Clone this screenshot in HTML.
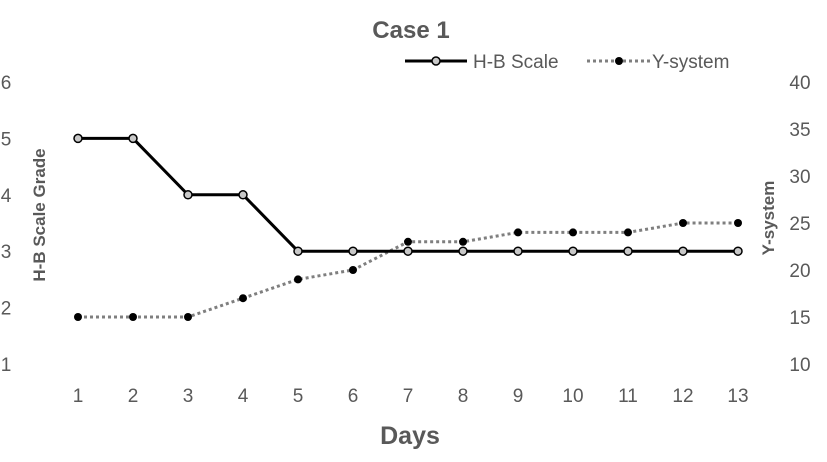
<!DOCTYPE html>
<html><head><meta charset="utf-8"><style>
body{margin:0;background:#fff;}
svg text{font-family:"Liberation Sans",sans-serif;fill:#595959;}
</style></head><body>
<svg id="chart" width="827" height="457" xmlns="http://www.w3.org/2000/svg">
<text x="411" y="38" text-anchor="middle" font-size="24" font-weight="bold">Case 1</text>
<g>
<g>
<line x1="405" y1="61" x2="467" y2="61" stroke="#000" stroke-width="3"/>
<circle cx="436" cy="61" r="4" fill="#c8c8c8" stroke="#000" stroke-width="1.5"/>
<text x="473" y="68" font-size="19">H-B Scale</text></g>
<g>
<line x1="587" y1="61" x2="650" y2="61" stroke="#7f7f7f" stroke-width="3" stroke-dasharray="3,3"/>
<circle cx="619" cy="61" r="4" fill="#000"/>
<text x="652" y="68" font-size="19">Y-system</text></g>
</g>
<text transform="translate(45,215) rotate(-90)" text-anchor="middle" font-size="17" font-weight="bold">H-B Scale Grade</text>
<text transform="translate(774,218) rotate(-90)" text-anchor="middle" font-size="17" font-weight="bold">Y-system</text>
<text x="410" y="444" text-anchor="middle" font-size="25" font-weight="bold">Days</text>
<g id="ticks"></g>
<g id="series"></g>
</svg>
<script>
const days=[1,2,3,4,5,6,7,8,9,10,11,12,13];
const hbValues=[5,5,4,4,3,3,3,3,3,3,3,3,3];
const ySystemValues=[15,15,15,17,19,20,23,23,24,24,24,25,25];
const leftTicks=[1,2,3,4,5,6];
const rightTicks=[10,15,20,25,30,35,40];
const NS="http://www.w3.org/2000/svg";
const top_=82,bot=364;
const xS=d=>78+(d-1)*55;
const yL=v=>bot-(v-1)/5*(bot-top_);
const yR=v=>bot-(v-10)/30*(bot-top_);
const tk=document.getElementById('ticks'),sr=document.getElementById('series');
function mk(tag,attrs,parent){const e=document.createElementNS(NS,tag);for(const k in attrs)e.setAttribute(k,attrs[k]);parent.appendChild(e);return e;}
days.forEach(d=>{const t=mk('text',{x:xS(d),y:402,'text-anchor':'middle','font-size':19},tk);t.textContent=d;

});
leftTicks.forEach(v=>{const t=mk('text',{x:6,y:yL(v)+7,'text-anchor':'middle','font-size':19},tk);t.textContent=v;

});
rightTicks.forEach(v=>{const t=mk('text',{x:800,y:yR(v)+7,'text-anchor':'middle','font-size':19},tk);t.textContent=v;

});
const yp=mk('polyline',{points:days.map((d,i)=>xS(d)+','+yR(ySystemValues[i])).join(' '),fill:'none',stroke:'#7f7f7f','stroke-width':3,'stroke-dasharray':'3,3'},sr);


const hp=mk('polyline',{points:days.map((d,i)=>xS(d)+','+yL(hbValues[i])).join(' '),fill:'none',stroke:'#000','stroke-width':3},sr);


days.forEach((d,i)=>{const c=mk('circle',{cx:xS(d),cy:yR(ySystemValues[i]),r:4,fill:'#000'},sr);

});
days.forEach((d,i)=>{const c=mk('circle',{cx:xS(d),cy:yL(hbValues[i]),r:4,fill:'#c8c8c8',stroke:'#000','stroke-width':1.5},sr);

});
</script>
</body></html>
